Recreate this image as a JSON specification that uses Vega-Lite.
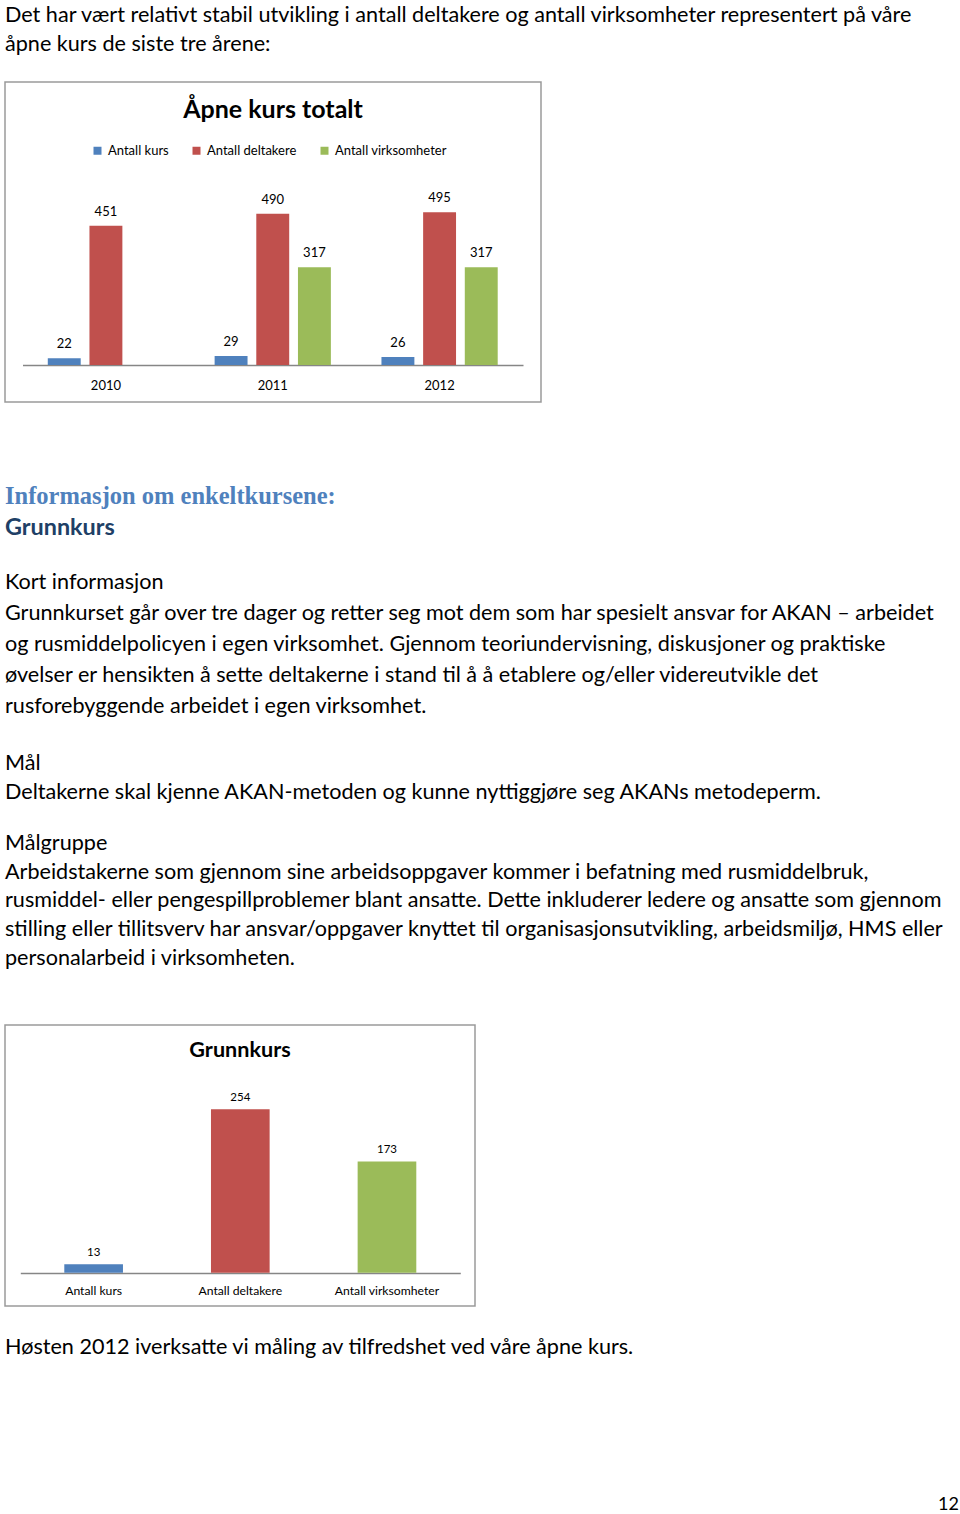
{
  "$schema": "https://vega.github.io/schema/vega-lite/v6.json",
  "background": "white",
  "padding": {"left": 4, "top": 0, "right": 0, "bottom": 0},
  "bounds": "flush",
  "spacing": 0,
  "config": {
    "font": "Lato",
    "view": {"stroke": null},
    "text": {"font": "Lato", "color": "#000000"},
    "title": {"color": "#000000"}
  },
  "datasets": {
    "tekst": [
      {"blokk": "intro", "linje": 0, "type": "brod", "tekst": "Det har vært relativt stabil utvikling i antall deltakere og antall virksomheter representert på våre"},
      {"blokk": "intro", "linje": 1, "type": "brod", "tekst": "åpne kurs de siste tre årene:"},
      {"blokk": "overskrift", "linje": 0, "type": "h2", "tekst": "Informasjon om enkeltkursene:"},
      {"blokk": "overskrift", "linje": 1, "type": "h1", "tekst": "Grunnkurs"},
      {"blokk": "kort", "linje": 0, "type": "brod", "tekst": "Kort informasjon"},
      {"blokk": "kort", "linje": 1, "type": "brod", "tekst": "Grunnkurset går over tre dager og retter seg mot dem som har spesielt ansvar for AKAN – arbeidet"},
      {"blokk": "kort", "linje": 2, "type": "brod", "tekst": "og rusmiddelpolicyen i egen virksomhet. Gjennom teoriundervisning, diskusjoner og praktiske"},
      {"blokk": "kort", "linje": 3, "type": "brod", "tekst": "øvelser er hensikten å sette deltakerne i stand til å å etablere og/eller videreutvikle det"},
      {"blokk": "kort", "linje": 4, "type": "brod", "tekst": "rusforebyggende arbeidet i egen virksomhet."},
      {"blokk": "maal", "linje": 0, "type": "brod", "tekst": "Mål"},
      {"blokk": "maal", "linje": 1, "type": "brod", "tekst": "Deltakerne skal kjenne AKAN-metoden og kunne nyttiggjøre seg AKANs metodeperm."},
      {"blokk": "maalgruppe", "linje": 0, "type": "brod", "tekst": "Målgruppe"},
      {"blokk": "maalgruppe", "linje": 1, "type": "brod", "tekst": "Arbeidstakerne som gjennom sine arbeidsoppgaver kommer i befatning med rusmiddelbruk,"},
      {"blokk": "maalgruppe", "linje": 2, "type": "brod", "tekst": "rusmiddel- eller pengespillproblemer blant ansatte. Dette inkluderer ledere og ansatte som gjennom"},
      {"blokk": "maalgruppe", "linje": 3, "type": "brod", "tekst": "stilling eller tillitsverv har ansvar/oppgaver knyttet til organisasjonsutvikling, arbeidsmiljø, HMS eller"},
      {"blokk": "maalgruppe", "linje": 4, "type": "brod", "tekst": "personalarbeid i virksomheten."},
      {"blokk": "slutt", "linje": 0, "type": "brod", "tekst": "Høsten 2012 iverksatte vi måling av tilfredshet ved våre åpne kurs."},
      {"blokk": "slutt", "linje": 1, "type": "side", "tekst": "12"}
    ],
    "totalt": [
      {"år": "2010", "serie": "Antall kurs", "verdi": 22},
      {"år": "2010", "serie": "Antall deltakere", "verdi": 451},
      {"år": "2011", "serie": "Antall kurs", "verdi": 29},
      {"år": "2011", "serie": "Antall deltakere", "verdi": 490},
      {"år": "2011", "serie": "Antall virksomheter", "verdi": 317},
      {"år": "2012", "serie": "Antall kurs", "verdi": 26},
      {"år": "2012", "serie": "Antall deltakere", "verdi": 495},
      {"år": "2012", "serie": "Antall virksomheter", "verdi": 317}
    ],
    "grunnkurs": [
      {"kategori": "Antall kurs", "verdi": 13},
      {"kategori": "Antall deltakere", "verdi": 254},
      {"kategori": "Antall virksomheter", "verdi": 173}
    ]
  },
  "vconcat": [
    {
      "width": 954, "height": 82,
      "data": {"name": "tekst"},
      "transform": [{"filter": "datum.blokk === 'intro'"}],
      "mark": {"type": "text", "align": "left", "baseline": "alphabetic", "fontSize": 21.6},
      "encoding": {
        "x": {"datum": 0, "type": "quantitative", "scale": {"domain": [0, 1]}, "axis": null},
        "y": {"field": "linje", "type": "quantitative", "scale": {"domain": [-0.7586, 2.069], "reverse": true, "nice": false, "zero": false}, "axis": null},
        "text": {"field": "tekst"}
      }
    },
    {
      "width": 536, "height": 320,
      "view": {"stroke": "#9a9a9a", "strokeWidth": 1.5},
      "data": {"name": "totalt"},
      "title": {"text": "Åpne kurs totalt", "font": "Lato", "fontSize": 25, "fontWeight": "bold", "anchor": "middle", "baseline": "alphabetic", "offset": -61},
      "encoding": {
        "x": {"field": "år", "type": "nominal", "scale": {"range": [17.5, 518], "paddingInner": 0, "paddingOuter": 0},
              "axis": {"orient": "bottom", "offset": -37, "title": null, "labelAngle": 0, "ticks": false, "tickSize": 0, "grid": false,
                       "domainColor": "#868686", "domainWidth": 1.5, "labelFont": "Lato", "labelFontSize": 13, "labelColor": "#000000",
                       "labelBaseline": "alphabetic", "labelPadding": 24}},
        "xOffset": {"field": "serie", "type": "nominal", "sort": ["Antall kurs", "Antall deltakere", "Antall virksomheter"],
                    "scale": {"domain": ["Antall kurs", "Antall deltakere", "Antall virksomheter"], "paddingInner": 0.21, "paddingOuter": 0.607}},
        "y": {"field": "verdi", "type": "quantitative", "scale": {"domain": [-119.9, 917.3]}, "axis": null}
      },
      "layer": [
        {
          "mark": {"type": "bar", "stack": null},
          "encoding": {
            "color": {"field": "serie", "type": "nominal",
                      "scale": {"domain": ["Antall kurs", "Antall deltakere", "Antall virksomheter"], "range": ["#4F81BD", "#C0504D", "#9BBB59"]},
                      "legend": {"orient": "none", "legendX": 86, "legendY": 144, "direction": "horizontal", "columns": 3, "title": null,
                                 "symbolType": "square", "symbolSize": 64, "symbolStrokeWidth": 0, "labelFont": "Lato", "labelFontSize": 13,
                                 "labelColor": "#000000", "labelOffset": 4, "columnPadding": 21, "padding": 0}}
          }
        },
        {
          "mark": {"type": "text", "baseline": "alphabetic", "dy": -10, "fontSize": 13},
          "encoding": {"text": {"field": "verdi", "type": "quantitative"}}
        }
      ]
    },
    {
      "width": 954, "height": 154,
      "data": {"name": "tekst"},
      "transform": [{"filter": "datum.blokk === 'overskrift'"}],
      "encoding": {
        "x": {"datum": 0, "type": "quantitative", "scale": {"domain": [0, 1]}, "axis": null},
        "y": {"field": "linje", "type": "quantitative", "scale": {"domain": [-3.2903, 1.6774], "reverse": true, "nice": false, "zero": false}, "axis": null},
        "text": {"field": "tekst"}
      },
      "layer": [
        {
          "transform": [{"filter": "datum.type === 'h2'"}],
          "mark": {"type": "text", "align": "left", "baseline": "alphabetic", "font": "Liberation Serif", "fontWeight": "bold", "fontSize": 24.5, "color": "#4F81BD"}
        },
        {
          "transform": [{"filter": "datum.type === 'h1'"}],
          "mark": {"type": "text", "align": "left", "baseline": "alphabetic", "font": "Lato", "fontWeight": "bold", "fontSize": 23.4, "color": "#203F66"}
        }
      ]
    },
    {
      "width": 954, "height": 180,
      "data": {"name": "tekst"},
      "transform": [{"filter": "datum.blokk === 'kort'"}],
      "mark": {"type": "text", "align": "left", "baseline": "alphabetic", "fontSize": 21.6},
      "encoding": {
        "x": {"datum": 0, "type": "quantitative", "scale": {"domain": [0, 1]}, "axis": null},
        "y": {"field": "linje", "type": "quantitative", "scale": {"domain": [-1.0645, 4.7419], "reverse": true, "nice": false, "zero": false}, "axis": null},
        "text": {"field": "tekst"}
      }
    },
    {
      "width": 954, "height": 80,
      "data": {"name": "tekst"},
      "transform": [{"filter": "datum.blokk === 'maal'"}],
      "mark": {"type": "text", "align": "left", "baseline": "alphabetic", "fontSize": 21.6},
      "encoding": {
        "x": {"datum": 0, "type": "quantitative", "scale": {"domain": [0, 1]}, "axis": null},
        "y": {"field": "linje", "type": "quantitative", "scale": {"domain": [-1.1724, 1.5862], "reverse": true, "nice": false, "zero": false}, "axis": null},
        "text": {"field": "tekst"}
      }
    },
    {
      "width": 954, "height": 209,
      "data": {"name": "tekst"},
      "transform": [{"filter": "datum.blokk === 'maalgruppe'"}],
      "mark": {"type": "text", "align": "left", "baseline": "alphabetic", "fontSize": 21.6},
      "encoding": {
        "x": {"datum": 0, "type": "quantitative", "scale": {"domain": [0, 1]}, "axis": null},
        "y": {"field": "linje", "type": "quantitative", "scale": {"domain": [-1.1826, 6.087], "reverse": true, "nice": false, "zero": false}, "axis": null},
        "text": {"field": "tekst"}
      }
    },
    {
      "width": 470, "height": 281,
      "view": {"stroke": "#9a9a9a", "strokeWidth": 1.5},
      "data": {"name": "grunnkurs"},
      "title": {"text": "Grunnkurs", "font": "Lato", "fontSize": 21.6, "fontWeight": "bold", "anchor": "middle", "baseline": "alphabetic", "offset": -54},
      "encoding": {
        "x": {"field": "kategori", "type": "nominal", "sort": ["Antall kurs", "Antall deltakere", "Antall virksomheter"],
              "scale": {"range": [15.3, 455.3], "paddingInner": 0.6, "paddingOuter": 0.3},
              "axis": {"orient": "bottom", "offset": -33, "title": null, "labelAngle": 0, "ticks": false, "tickSize": 0, "grid": false,
                       "domainColor": "#868686", "domainWidth": 1.5, "labelFont": "Lato", "labelFontSize": 12.2, "labelColor": "#000000",
                       "labelBaseline": "alphabetic", "labelPadding": 21}},
        "y": {"field": "verdi", "type": "quantitative", "scale": {"domain": [-51.8, 385.2]}, "axis": null}
      },
      "layer": [
        {
          "mark": {"type": "bar"},
          "encoding": {
            "color": {"field": "kategori", "type": "nominal",
                      "scale": {"domain": ["Antall kurs", "Antall deltakere", "Antall virksomheter"], "range": ["#4F81BD", "#C0504D", "#9BBB59"]},
                      "legend": null}
          }
        },
        {
          "mark": {"type": "text", "baseline": "alphabetic", "dy": -8.5, "fontSize": 11.5},
          "encoding": {"text": {"field": "verdi", "type": "quantitative"}}
        }
      ]
    },
    {
      "width": 954, "height": 208,
      "data": {"name": "tekst"},
      "transform": [{"filter": "datum.blokk === 'slutt'"}],
      "encoding": {
        "y": {"field": "linje", "type": "quantitative", "scale": {"domain": [-0.3077, 1.0256], "reverse": true, "nice": false, "zero": false}, "axis": null},
        "text": {"field": "tekst"}
      },
      "layer": [
        {
          "transform": [{"filter": "datum.type === 'brod'"}],
          "mark": {"type": "text", "align": "left", "baseline": "alphabetic", "fontSize": 21.6},
          "encoding": {"x": {"datum": 0, "type": "quantitative", "scale": {"domain": [0, 1]}, "axis": null}}
        },
        {
          "transform": [{"filter": "datum.type === 'side'"}],
          "mark": {"type": "text", "align": "right", "baseline": "alphabetic", "fontSize": 18},
          "encoding": {"x": {"datum": 1, "type": "quantitative", "scale": {"domain": [0, 1]}, "axis": null}}
        }
      ]
    }
  ]
}
